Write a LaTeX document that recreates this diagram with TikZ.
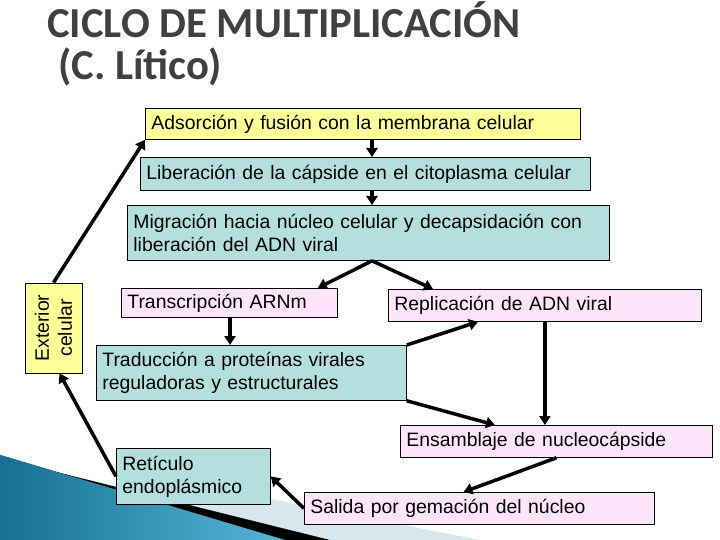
\documentclass[tikz,border=0pt]{standalone}
\usepackage{fontspec}
\setmainfont{Liberation Sans}
\newfontfamily\titlefont{Carlito}
\usetikzlibrary{arrows.meta,calc}
\definecolor{boxyellow}{HTML}{FFFF99}
\definecolor{boxteal}{HTML}{B4DFDF}
\definecolor{boxpink}{HTML}{FFE5FC}
\definecolor{titlegray}{HTML}{404040}
\definecolor{swdark}{HTML}{17708F}
\definecolor{swlight}{HTML}{55B6D8}
\definecolor{swpale}{HTML}{D6E7EE}
\begin{document}
\begin{tikzpicture}[x=1pt,y=-1pt,
  box/.style={draw=black, line width=0.8pt, anchor=north west, inner xsep=6pt, inner ysep=0pt,
    align=left, font=\fontsize{19.4}{23}\selectfont, text=black},
  titletext/.style={anchor=base west, inner sep=0pt, text=titlegray, font=\titlefont\bfseries\fontsize{42.7}{46}\selectfont},
  arr/.style={line width=3.5pt, -{Triangle[length=9pt,width=11pt]}}
]
\useasboundingbox (0,0) rectangle (720,540);
% background swoosh
\fill[swpale] (150,475) -- (480,540) -- (150,540) -- cycle;
\fill[black] (0,458) -- (330,540) -- (0,540) -- cycle;
\fill[left color=swdark, right color=swlight] (0,455) -- (285,540) -- (0,540) -- cycle;
% title
\node[titletext] (t1) at (47,38) {CICLO DE MULTIPLICACIÓN};
\node[titletext] (t2) at (58,80) {(C. Lítico)};
% boxes
\node[box, fill=boxyellow, text width=423pt, minimum height=31pt] (ads) at (145,108) {Adsorción y fusión con la membrana celular};
\node[box, fill=boxteal, text width=438pt, minimum height=33pt] (lib) at (140,157) {Liberación de la cápside en el citoplasma celular};
\node[box, fill=boxteal, text width=470pt, minimum height=55pt] (mig) at (127,205) {Migración hacia núcleo celular y decapsidación con\\liberación del ADN viral};
\node[draw=black, line width=0.8pt, fill=boxyellow, rotate=90, minimum width=90pt, minimum height=57pt, inner sep=0pt, align=center, font=\fontsize{19.4}{23}\selectfont] (ext) at (53.5,328) {Exterior\\celular};
\node[box, fill=boxpink, text width=204pt, minimum height=29pt] (tr) at (121,288) {Transcripción ARNm};
\node[box, fill=boxpink, text width=301pt, minimum height=32pt] (rep) at (388,289) {Replicación de ADN viral};
\node[box, fill=boxteal, text width=298pt, minimum height=55pt] (trad) at (96,345) {Traducción a proteínas virales\\reguladoras y estructurales};
\node[box, fill=boxpink, text width=300pt, minimum height=32pt] (ens) at (400,425) {Ensamblaje de nucleocápside};
\node[box, fill=boxteal, text width=142pt, minimum height=56pt] (ret) at (116,448) {Retículo\\endoplásmico};
\node[box, fill=boxpink, text width=338pt, minimum height=32pt] (sal) at (304,492) {Salida por gemación del núcleo};
% connectors
\coordinate (cx) at (372,0);
\coordinate (trx) at ($(tr.south west)+(109,0)$);
\draw[arr] (ads.south -| cx) -- (lib.north -| cx);
\draw[arr] (lib.south -| cx) -- (mig.north -| cx);
\draw[arr] (mig.south -| cx) -- ($(tr.north east)+(-20,0)$);
\draw[arr] (mig.south -| cx) -- ($(rep.north west)+(45,0)$);
\draw[arr] (trx) -- (trx |- trad.north);
\draw[arr] (trad.north east) -- ($(rep.south west)+(90,0)$);
\draw[arr] (trad.south east) -- ($(ens.north west)+(95,0)$);
\draw[arr] (rep.south) -- (rep.south |- ens.north);
\draw[arr] (ens.south) -- ($(sal.north)+(-16,0)$);
\draw[arr] (sal.west) -- (ret.east);
\draw[arr] (ret.west) -- ($(ext.west)+(6,0)$);
\draw[arr] (ext.east) -- (ads.south west);
\end{tikzpicture}
\end{document}
